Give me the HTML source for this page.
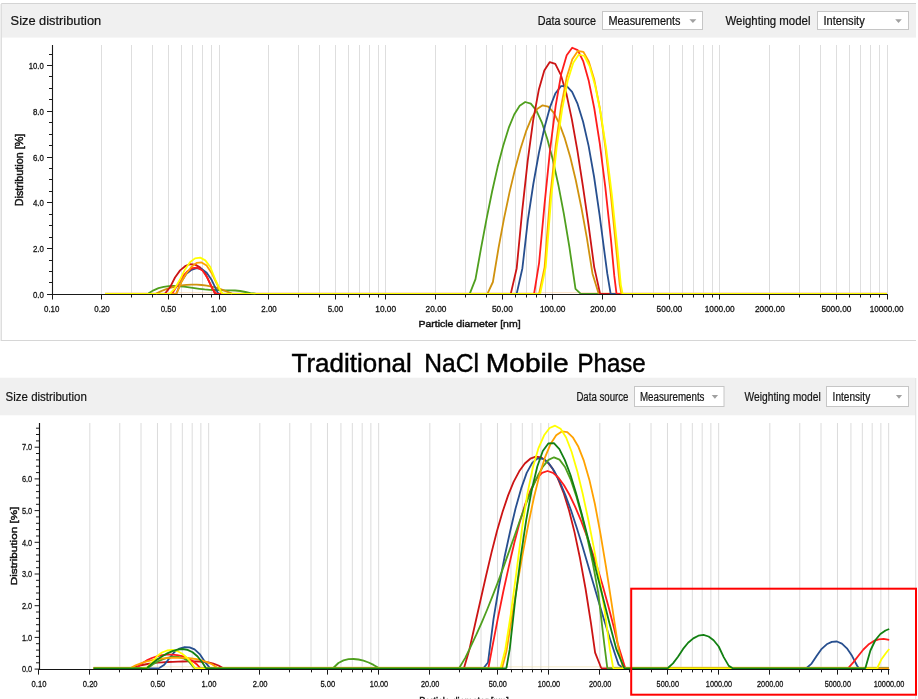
<!DOCTYPE html>
<html lang="en"><head><meta charset="utf-8"><title>Size distribution</title>
<style>html,body{margin:0;padding:0;background:#fff;width:918px;height:699px;overflow:hidden}body{position:relative}</style></head>
<body>
<svg width="918" height="699" viewBox="0 0 918 699" style="position:absolute;left:0;top:0;display:block">
<rect x="1" y="3" width="915" height="34.6" fill="#f0f0f0"/>
<rect x="1" y="3" width="915" height="1" fill="#d4d4d4"/>
<rect x="0" y="4" width="1" height="337" fill="#efefef"/>
<rect x="1" y="3" width="1" height="338" fill="#dedede"/>
<rect x="1" y="340" width="915" height="1" fill="#d6d6d6"/>
<g font-family="'Liberation Sans', sans-serif">
<text x="10.6" y="24.6" font-size="13.5" textLength="90.6" lengthAdjust="spacingAndGlyphs" fill="#141414" stroke="#141414" stroke-width="0.22">Size distribution</text>
<text x="537.8" y="24.5" font-size="12" textLength="58.2" lengthAdjust="spacingAndGlyphs" fill="#141414" stroke="#141414" stroke-width="0.22">Data source</text>
<rect x="602.5" y="11.5" width="100" height="18" fill="#fff" stroke="#c6c6c6"/>
<text x="608.5" y="24.5" font-size="12" textLength="72" lengthAdjust="spacingAndGlyphs" fill="#141414" stroke="#141414" stroke-width="0.22">Measurements</text>
<path d="M689.4,19.2h7l-3.5,3.8z" fill="#a0a0a0"/>
<text x="725.5" y="24.5" font-size="12" textLength="85" lengthAdjust="spacingAndGlyphs" fill="#141414" stroke="#141414" stroke-width="0.22">Weighting model</text>
<rect x="817.5" y="11.5" width="91" height="18" fill="#fff" stroke="#c6c6c6"/>
<text x="823.5" y="24.5" font-size="12" textLength="41.2" lengthAdjust="spacingAndGlyphs" fill="#141414" stroke="#141414" stroke-width="0.22">Intensity</text>
<path d="M895.2,19.2h6.6l-3.3,3.8z" fill="#a0a0a0"/>
</g>
<path d="M101.5,45V294.4M131.5,45V294.4M152.5,45V294.4M168.5,45V294.4M181.5,45V294.4M192.5,45V294.4M202.5,45V294.4M211.5,45V294.4M219.5,45V294.4M268.5,45V294.4M298.5,45V294.4M319.5,45V294.4M335.5,45V294.4M348.5,45V294.4M359.5,45V294.4M369.5,45V294.4M378.5,45V294.4M385.5,45V294.4M435.5,45V294.4M465.5,45V294.4M486.5,45V294.4M502.5,45V294.4M515.5,45V294.4M526.5,45V294.4M536.5,45V294.4M545.5,45V294.4M552.5,45V294.4M602.5,45V294.4M632.5,45V294.4M653.5,45V294.4M669.5,45V294.4M682.5,45V294.4M693.5,45V294.4M703.5,45V294.4M712.5,45V294.4M719.5,45V294.4M769.5,45V294.4M799.5,45V294.4M820.5,45V294.4M836.5,45V294.4M849.5,45V294.4M860.5,45V294.4M870.5,45V294.4M879.5,45V294.4M887.5,45V294.4" stroke="#dedede" stroke-width="1" fill="none"/>
<path d="M52.5,45V295M52,294.5H888" stroke="#1a1a1a" stroke-width="1.1" fill="none"/>
<path d="M52.5,294.5V299.5M101.5,294.5V299.5M168.5,294.5V299.5M219.5,294.5V299.5M268.5,294.5V299.5M335.5,294.5V299.5M385.5,294.5V299.5M435.5,294.5V299.5M502.5,294.5V299.5M552.5,294.5V299.5M602.5,294.5V299.5M669.5,294.5V299.5M719.5,294.5V299.5M769.5,294.5V299.5M836.5,294.5V299.5M887.5,294.5V299.5M131.5,294.5V297.5M152.5,294.5V297.5M181.5,294.5V297.5M192.5,294.5V297.5M202.5,294.5V297.5M211.5,294.5V297.5M298.5,294.5V297.5M319.5,294.5V297.5M348.5,294.5V297.5M359.5,294.5V297.5M369.5,294.5V297.5M378.5,294.5V297.5M465.5,294.5V297.5M486.5,294.5V297.5M515.5,294.5V297.5M526.5,294.5V297.5M536.5,294.5V297.5M545.5,294.5V297.5M632.5,294.5V297.5M653.5,294.5V297.5M682.5,294.5V297.5M693.5,294.5V297.5M703.5,294.5V297.5M712.5,294.5V297.5M799.5,294.5V297.5M820.5,294.5V297.5M849.5,294.5V297.5M860.5,294.5V297.5M870.5,294.5V297.5M879.5,294.5V297.5M47,294.5H52M49,282.5H52M49,271.5H52M49,260.5H52M47,248.5H52M49,237.5H52M49,225.5H52M49,214.5H52M47,202.5H52M49,191.5H52M49,179.5H52M49,168.5H52M47,157.5H52M49,145.5H52M49,134.5H52M49,122.5H52M47,111.5H52M49,99.5H52M49,88.5H52M49,76.5H52M47,65.5H52M49,54.5H52" stroke="#1a1a1a" stroke-width="1" fill="none"/>
<g font-family="'Liberation Sans', sans-serif">
<text x="43.8" y="297.8" font-size="9" text-anchor="end" textLength="10.9" lengthAdjust="spacingAndGlyphs" fill="#141414" stroke="#141414" stroke-width="0.3">0.0</text>
<text x="43.8" y="252.0" font-size="9" text-anchor="end" textLength="10.9" lengthAdjust="spacingAndGlyphs" fill="#141414" stroke="#141414" stroke-width="0.3">2.0</text>
<text x="43.8" y="206.2" font-size="9" text-anchor="end" textLength="10.9" lengthAdjust="spacingAndGlyphs" fill="#141414" stroke="#141414" stroke-width="0.3">4.0</text>
<text x="43.8" y="160.5" font-size="9" text-anchor="end" textLength="10.9" lengthAdjust="spacingAndGlyphs" fill="#141414" stroke="#141414" stroke-width="0.3">6.0</text>
<text x="43.8" y="114.7" font-size="9" text-anchor="end" textLength="10.9" lengthAdjust="spacingAndGlyphs" fill="#141414" stroke="#141414" stroke-width="0.3">8.0</text>
<text x="43.8" y="68.9" font-size="9" text-anchor="end" textLength="15" lengthAdjust="spacingAndGlyphs" fill="#141414" stroke="#141414" stroke-width="0.3">10.0</text>
<text x="51.7" y="311.8" font-size="9" text-anchor="middle" textLength="15.4" lengthAdjust="spacingAndGlyphs" fill="#141414" stroke="#141414" stroke-width="0.3">0.10</text>
<text x="102.0" y="311.8" font-size="9" text-anchor="middle" textLength="15.4" lengthAdjust="spacingAndGlyphs" fill="#141414" stroke="#141414" stroke-width="0.3">0.20</text>
<text x="168.4" y="311.8" font-size="9" text-anchor="middle" textLength="15.4" lengthAdjust="spacingAndGlyphs" fill="#141414" stroke="#141414" stroke-width="0.3">0.50</text>
<text x="218.7" y="311.8" font-size="9" text-anchor="middle" textLength="15.4" lengthAdjust="spacingAndGlyphs" fill="#141414" stroke="#141414" stroke-width="0.3">1.00</text>
<text x="269.0" y="311.8" font-size="9" text-anchor="middle" textLength="15.4" lengthAdjust="spacingAndGlyphs" fill="#141414" stroke="#141414" stroke-width="0.3">2.00</text>
<text x="335.4" y="311.8" font-size="9" text-anchor="middle" textLength="15.4" lengthAdjust="spacingAndGlyphs" fill="#141414" stroke="#141414" stroke-width="0.3">5.00</text>
<text x="385.7" y="311.8" font-size="9" text-anchor="middle" textLength="20.8" lengthAdjust="spacingAndGlyphs" fill="#141414" stroke="#141414" stroke-width="0.3">10.00</text>
<text x="436.0" y="311.8" font-size="9" text-anchor="middle" textLength="20.8" lengthAdjust="spacingAndGlyphs" fill="#141414" stroke="#141414" stroke-width="0.3">20.00</text>
<text x="502.4" y="311.8" font-size="9" text-anchor="middle" textLength="20.8" lengthAdjust="spacingAndGlyphs" fill="#141414" stroke="#141414" stroke-width="0.3">50.00</text>
<text x="552.7" y="311.8" font-size="9" text-anchor="middle" textLength="25.6" lengthAdjust="spacingAndGlyphs" fill="#141414" stroke="#141414" stroke-width="0.3">100.00</text>
<text x="603.0" y="311.8" font-size="9" text-anchor="middle" textLength="25.6" lengthAdjust="spacingAndGlyphs" fill="#141414" stroke="#141414" stroke-width="0.3">200.00</text>
<text x="669.4" y="311.8" font-size="9" text-anchor="middle" textLength="25.6" lengthAdjust="spacingAndGlyphs" fill="#141414" stroke="#141414" stroke-width="0.3">500.00</text>
<text x="719.7" y="311.8" font-size="9" text-anchor="middle" textLength="30" lengthAdjust="spacingAndGlyphs" fill="#141414" stroke="#141414" stroke-width="0.3">1000.00</text>
<text x="770.0" y="311.8" font-size="9" text-anchor="middle" textLength="30" lengthAdjust="spacingAndGlyphs" fill="#141414" stroke="#141414" stroke-width="0.3">2000.00</text>
<text x="836.4" y="311.8" font-size="9" text-anchor="middle" textLength="30" lengthAdjust="spacingAndGlyphs" fill="#141414" stroke="#141414" stroke-width="0.3">5000.00</text>
<text x="886.7" y="311.8" font-size="9" text-anchor="middle" textLength="33.8" lengthAdjust="spacingAndGlyphs" fill="#141414" stroke="#141414" stroke-width="0.3">10000.00</text>
<text x="469.5" y="327.2" font-size="9.9" text-anchor="middle" textLength="102.2" lengthAdjust="spacingAndGlyphs" fill="#141414" stroke="#141414" stroke-width="0.45">Particle diameter [nm]</text>
<text transform="translate(23.3,170) rotate(-90)" font-size="10.3" text-anchor="middle" textLength="72.4" lengthAdjust="spacingAndGlyphs" fill="#141414" stroke="#141414" stroke-width="0.45">Distribution [%]</text>
</g>
<rect x="105" y="292.2" width="782" height="1" fill="#f9c48a" opacity="0.55"/>
<g stroke="#4f9f1e" fill="none"><path d="M105.0,293.53H148.7M255.1,293.53H470.2M580.1,293.53H887.0" stroke-width="1.14"/><path d="M148.3,293.6 L153.5,290.3 L158.5,288.2 L163.7,286.9 L168.8,286.2 L173.8,286.0 L178.9,286.3 L184.0,286.7 L189.2,287.4 L194.4,288.1 L199.5,288.8 L204.6,289.4 L209.7,289.8 L214.7,290.0 L219.8,290.2 L224.9,290.3 L230.0,290.3 L235.1,290.5 L240.2,291.0 L245.4,292.0 L250.5,293.1 L255.5,293.6M469.8,293.6 L475.5,279.1 L481.1,247.9 L486.6,218.6 L492.1,191.5 L497.6,167.1 L503.2,145.7 L508.7,127.9 L514.2,114.5 L519.7,105.7 L525.2,102.0 L530.8,103.6 L536.3,110.4 L541.8,122.3 L547.3,139.0 L552.9,160.1 L558.4,185.2 L563.9,214.2 L569.4,247.2 L575.5,288.9 L580.5,293.6" stroke-width="1.8" stroke-linejoin="round"/></g>
<g stroke="#d0920e" fill="none"><path d="M105.0,293.53H156.5M231.6,293.53H487.9M598.2,293.53H887.0" stroke-width="1.14"/><path d="M156.1,293.6 L161.2,291.1 L166.2,289.1 L171.2,287.5 L176.4,286.3 L181.4,285.4 L186.6,284.8 L191.6,284.6 L196.6,284.6 L201.6,285.0 L206.7,285.6 L211.8,286.6 L216.9,287.9 L221.9,289.6 L227.0,291.6 L232.0,293.6M487.5,293.6 L492.9,282.0 L498.5,248.1 L504.0,218.7 L509.5,192.4 L515.1,168.9 L520.6,148.4 L526.1,131.2 L531.6,117.9 L537.1,109.1 L542.6,105.3 L548.2,106.6 L553.7,112.7 L559.3,123.5 L564.8,138.4 L570.3,157.3 L575.8,180.3 L581.3,207.2 L586.9,238.2 L592.5,273.7 L598.6,293.6" stroke-width="1.8" stroke-linejoin="round"/></g>
<g stroke="#cc1414" fill="none"><path d="M105.0,293.53H165.4M214.5,293.53H511.2M599.7,293.53H887.0" stroke-width="1.14"/><path d="M165.0,293.6 L170.0,287.3 L175.0,277.5 L180.1,270.4 L185.1,266.2 L190.2,264.2 L195.2,264.6 L200.3,267.6 L205.3,273.5 L210.4,284.3 L214.9,293.6M510.8,293.6 L516.7,268.2 L522.2,210.9 L527.7,160.9 L533.2,120.2 L538.8,89.8 L544.3,70.5 L549.8,62.1 L555.3,63.9 L560.8,74.8 L566.4,93.8 L571.9,119.6 L577.4,150.7 L582.9,186.2 L588.5,224.7 L594.2,267.1 L600.1,293.6" stroke-width="1.8" stroke-linejoin="round"/></g>
<g stroke="#274f8f" fill="none"><path d="M105.0,293.53H176.8M218.0,293.53H517.1M610.2,293.53H887.0" stroke-width="1.14"/><path d="M176.4,293.6 L181.4,281.6 L186.4,273.7 L191.5,269.8 L196.6,268.2 L201.7,269.0 L206.7,272.8 L211.7,280.1 L216.8,290.9 L218.4,293.6M516.7,293.6 L522.4,268.2 L527.9,219.9 L533.4,183.5 L538.9,153.0 L544.5,127.5 L550.0,107.2 L555.5,93.2 L561.0,86.1 L566.5,85.8 L572.1,91.9 L577.6,103.9 L583.1,121.8 L588.6,145.9 L594.1,177.0 L599.6,215.1 L605.1,257.2 L607.3,273.7 L610.6,293.6" stroke-width="1.8" stroke-linejoin="round"/></g>
<g stroke="#ff1c1c" fill="none"><path d="M105.0,293.53H172.6M216.0,293.53H534.5M616.1,293.53H887.0" stroke-width="1.14"/><path d="M172.2,293.6 L177.2,285.5 L182.2,276.9 L187.2,271.5 L192.3,268.2 L197.4,267.6 L202.5,270.5 L207.5,277.9 L212.5,289.0 L216.4,293.6M534.1,293.6 L539.1,262.8 L544.6,203.7 L550.1,149.7 L555.7,105.6 L561.2,74.1 L566.7,55.3 L572.2,47.7 L577.7,50.1 L583.3,61.4 L588.8,81.1 L594.3,108.5 L599.8,143.6 L605.3,187.2 L610.9,239.2 L614.3,275.9 L616.5,293.6" stroke-width="1.8" stroke-linejoin="round"/></g>
<g stroke="#ffa200" fill="none"><path d="M105.0,293.53H176.8M221.5,293.53H539.5M620.9,293.53H887.0" stroke-width="1.14"/><path d="M176.4,293.6 L181.5,281.8 L186.5,273.2 L191.5,266.8 L196.6,262.9 L201.6,262.4 L206.6,265.6 L211.7,273.2 L216.7,283.7 L221.9,293.6M539.1,293.6 L544.6,267.1 L550.1,197.3 L555.7,145.4 L561.2,105.8 L566.7,77.3 L572.3,59.3 L577.8,51.0 L583.3,51.8 L588.8,61.4 L594.3,79.8 L599.8,107.8 L605.3,146.5 L610.9,195.4 L616.4,250.9 L619.7,284.6 L621.3,293.6" stroke-width="1.8" stroke-linejoin="round"/></g>
<g stroke="#ffff00" fill="none"><path d="M105.0,293.53H170.3M222.1,293.53H540.6M622.2,293.53H887.0" stroke-width="1.14"/><path d="M169.9,293.6 L174.9,288.3 L179.9,279.8 L185.0,269.4 L190.0,262.2 L195.0,258.4 L200.2,257.6 L205.3,260.4 L210.3,267.0 L215.3,279.7 L220.4,290.5 L222.5,293.6M540.2,293.6 L545.7,267.1 L551.2,197.4 L556.7,147.2 L562.2,108.8 L567.7,80.8 L573.3,62.7 L578.8,54.5 L584.3,56.0 L589.8,66.7 L595.3,86.2 L600.9,114.3 L606.4,150.4 L611.9,195.0 L617.4,248.1 L620.8,284.6 L622.6,293.6" stroke-width="1.8" stroke-linejoin="round"/></g>
<text y="371.7" font-size="25.8" fill="#000" stroke="#000" stroke-width="0.45" font-family="'Liberation Sans', sans-serif"><tspan x="291.6" textLength="120.2" lengthAdjust="spacingAndGlyphs">Traditional</tspan> <tspan x="424.3" textLength="54.6" lengthAdjust="spacingAndGlyphs">NaCl</tspan> <tspan x="485.8" textLength="83.0" lengthAdjust="spacingAndGlyphs">Mobile</tspan> <tspan x="577.5" textLength="68.2" lengthAdjust="spacingAndGlyphs">Phase</tspan></text>
<rect x="0" y="377.7" width="915" height="37.6" fill="#f0f0f0"/>
<rect x="915" y="378" width="1.3" height="321" fill="#e6e6e6"/>
<g font-family="'Liberation Sans', sans-serif">
<text x="5.6" y="400.7" font-size="13.5" textLength="81.2" lengthAdjust="spacingAndGlyphs" fill="#141414" stroke="#141414" stroke-width="0.22">Size distribution</text>
<text x="576.4" y="400.7" font-size="12.5" textLength="52" lengthAdjust="spacingAndGlyphs" fill="#141414" stroke="#141414" stroke-width="0.22">Data source</text>
<rect x="634.5" y="386.5" width="89.5" height="20" fill="#fff" stroke="#c6c6c6"/>
<text x="640" y="400.7" font-size="12.5" textLength="64.5" lengthAdjust="spacingAndGlyphs" fill="#141414" stroke="#141414" stroke-width="0.22">Measurements</text>
<path d="M711.7,395h6.4l-3.2,3.8z" fill="#a0a0a0"/>
<text x="744.5" y="400.7" font-size="12.5" textLength="76.2" lengthAdjust="spacingAndGlyphs" fill="#141414" stroke="#141414" stroke-width="0.22">Weighting model</text>
<rect x="826.5" y="386.5" width="82" height="20" fill="#fff" stroke="#c6c6c6"/>
<text x="832.6" y="400.7" font-size="12.5" textLength="37.6" lengthAdjust="spacingAndGlyphs" fill="#141414" stroke="#141414" stroke-width="0.22">Intensity</text>
<path d="M895.9,395h6.2l-3.1,3.8z" fill="#a0a0a0"/>
</g>
<path d="M89.83,423V669.1M119.76,423V669.1M141.00,423V669.1M157.47,423V669.1M170.94,423V669.1M182.32,423V669.1M192.18,423V669.1M200.87,423V669.1M208.65,423V669.1M259.83,423V669.1M289.76,423V669.1M311.00,423V669.1M327.47,423V669.1M340.94,423V669.1M352.32,423V669.1M362.18,423V669.1M370.87,423V669.1M378.65,423V669.1M429.83,423V669.1M459.76,423V669.1M481.00,423V669.1M497.47,423V669.1M510.94,423V669.1M522.32,423V669.1M532.18,423V669.1M540.87,423V669.1M548.65,423V669.1M599.83,423V669.1M629.76,423V669.1M651.00,423V669.1M667.47,423V669.1M680.94,423V669.1M692.32,423V669.1M702.18,423V669.1M710.87,423V669.1M718.65,423V669.1M769.83,423V669.1M799.76,423V669.1M821.00,423V669.1M837.47,423V669.1M850.94,423V669.1M862.32,423V669.1M872.18,423V669.1M880.87,423V669.1M888.65,423V669.1" stroke="#dcdcdc" stroke-width="1" fill="none"/>
<path d="M39.5,423V670M38.6,669.45H889.5" stroke="#141414" stroke-width="1.15" fill="none"/>
<path d="M38.5,669.2V674.6M89.5,669.2V674.6M157.5,669.2V674.6M208.5,669.2V674.6M259.5,669.2V674.6M327.5,669.2V674.6M378.5,669.2V674.6M429.5,669.2V674.6M497.5,669.2V674.6M548.5,669.2V674.6M599.5,669.2V674.6M667.5,669.2V674.6M718.5,669.2V674.6M769.5,669.2V674.6M837.5,669.2V674.6M888.5,669.2V674.6M119.5,669.2V672.4M141.5,669.2V672.4M171.5,669.2V672.4M182.5,669.2V672.4M192.5,669.2V672.4M201.5,669.2V672.4M289.5,669.2V672.4M311.5,669.2V672.4M341.5,669.2V672.4M352.5,669.2V672.4M362.5,669.2V672.4M371.5,669.2V672.4M459.5,669.2V672.4M481.5,669.2V672.4M511.5,669.2V672.4M522.5,669.2V672.4M532.5,669.2V672.4M541.5,669.2V672.4M629.5,669.2V672.4M651.5,669.2V672.4M681.5,669.2V672.4M692.5,669.2V672.4M702.5,669.2V672.4M711.5,669.2V672.4M799.5,669.2V672.4M821.5,669.2V672.4M851.5,669.2V672.4M862.5,669.2V672.4M872.5,669.2V672.4M881.5,669.2V672.4M34.6,669.1H39M36,662.8H39M36,656.4H39M36,650.1H39M36,643.7H39M34.6,637.4H39M36,631.1H39M36,624.7H39M36,618.4H39M36,612.0H39M34.6,605.7H39M36,599.4H39M36,593.0H39M36,586.7H39M36,580.3H39M34.6,574.0H39M36,567.7H39M36,561.3H39M36,555.0H39M36,548.6H39M34.6,542.3H39M36,536.0H39M36,529.6H39M36,523.3H39M36,516.9H39M34.6,510.6H39M36,504.3H39M36,497.9H39M36,491.6H39M36,485.2H39M34.6,478.9H39M36,472.6H39M36,466.2H39M36,459.9H39M36,453.5H39M34.6,447.2H39M36,440.9H39M36,434.5H39M36,428.2H39" stroke="#1a1a1a" stroke-width="1" fill="none"/>
<g font-family="'Liberation Sans', sans-serif">
<text x="32.2" y="672.3" font-size="9.5" text-anchor="end" textLength="10.3" lengthAdjust="spacingAndGlyphs" fill="#141414" stroke="#141414" stroke-width="0.3">0.0</text>
<text x="32.2" y="640.6" font-size="9.5" text-anchor="end" textLength="10.3" lengthAdjust="spacingAndGlyphs" fill="#141414" stroke="#141414" stroke-width="0.3">1.0</text>
<text x="32.2" y="608.9" font-size="9.5" text-anchor="end" textLength="10.3" lengthAdjust="spacingAndGlyphs" fill="#141414" stroke="#141414" stroke-width="0.3">2.0</text>
<text x="32.2" y="577.2" font-size="9.5" text-anchor="end" textLength="10.3" lengthAdjust="spacingAndGlyphs" fill="#141414" stroke="#141414" stroke-width="0.3">3.0</text>
<text x="32.2" y="545.5" font-size="9.5" text-anchor="end" textLength="10.3" lengthAdjust="spacingAndGlyphs" fill="#141414" stroke="#141414" stroke-width="0.3">4.0</text>
<text x="32.2" y="513.8" font-size="9.5" text-anchor="end" textLength="10.3" lengthAdjust="spacingAndGlyphs" fill="#141414" stroke="#141414" stroke-width="0.3">5.0</text>
<text x="32.2" y="482.1" font-size="9.5" text-anchor="end" textLength="10.3" lengthAdjust="spacingAndGlyphs" fill="#141414" stroke="#141414" stroke-width="0.3">6.0</text>
<text x="32.2" y="450.4" font-size="9.5" text-anchor="end" textLength="10.3" lengthAdjust="spacingAndGlyphs" fill="#141414" stroke="#141414" stroke-width="0.3">7.0</text>
<text x="39.0" y="687.4" font-size="9.5" text-anchor="middle" textLength="14.8" lengthAdjust="spacingAndGlyphs" fill="#141414" stroke="#141414" stroke-width="0.3">0.10</text>
<text x="90.2" y="687.4" font-size="9.5" text-anchor="middle" textLength="14.8" lengthAdjust="spacingAndGlyphs" fill="#141414" stroke="#141414" stroke-width="0.3">0.20</text>
<text x="157.8" y="687.4" font-size="9.5" text-anchor="middle" textLength="14.8" lengthAdjust="spacingAndGlyphs" fill="#141414" stroke="#141414" stroke-width="0.3">0.50</text>
<text x="209.0" y="687.4" font-size="9.5" text-anchor="middle" textLength="14.8" lengthAdjust="spacingAndGlyphs" fill="#141414" stroke="#141414" stroke-width="0.3">1.00</text>
<text x="260.2" y="687.4" font-size="9.5" text-anchor="middle" textLength="14.8" lengthAdjust="spacingAndGlyphs" fill="#141414" stroke="#141414" stroke-width="0.3">2.00</text>
<text x="327.8" y="687.4" font-size="9.5" text-anchor="middle" textLength="14.8" lengthAdjust="spacingAndGlyphs" fill="#141414" stroke="#141414" stroke-width="0.3">5.00</text>
<text x="379.0" y="687.4" font-size="9.5" text-anchor="middle" textLength="18.3" lengthAdjust="spacingAndGlyphs" fill="#141414" stroke="#141414" stroke-width="0.3">10.00</text>
<text x="430.2" y="687.4" font-size="9.5" text-anchor="middle" textLength="18.3" lengthAdjust="spacingAndGlyphs" fill="#141414" stroke="#141414" stroke-width="0.3">20.00</text>
<text x="497.8" y="687.4" font-size="9.5" text-anchor="middle" textLength="18.3" lengthAdjust="spacingAndGlyphs" fill="#141414" stroke="#141414" stroke-width="0.3">50.00</text>
<text x="549.0" y="687.4" font-size="9.5" text-anchor="middle" textLength="22.4" lengthAdjust="spacingAndGlyphs" fill="#141414" stroke="#141414" stroke-width="0.3">100.00</text>
<text x="600.2" y="687.4" font-size="9.5" text-anchor="middle" textLength="22.4" lengthAdjust="spacingAndGlyphs" fill="#141414" stroke="#141414" stroke-width="0.3">200.00</text>
<text x="667.8" y="687.4" font-size="9.5" text-anchor="middle" textLength="22.4" lengthAdjust="spacingAndGlyphs" fill="#141414" stroke="#141414" stroke-width="0.3">500.00</text>
<text x="719.0" y="687.4" font-size="9.5" text-anchor="middle" textLength="26.3" lengthAdjust="spacingAndGlyphs" fill="#141414" stroke="#141414" stroke-width="0.3">1000.00</text>
<text x="770.2" y="687.4" font-size="9.5" text-anchor="middle" textLength="26.3" lengthAdjust="spacingAndGlyphs" fill="#141414" stroke="#141414" stroke-width="0.3">2000.00</text>
<text x="837.8" y="687.4" font-size="9.5" text-anchor="middle" textLength="26.3" lengthAdjust="spacingAndGlyphs" fill="#141414" stroke="#141414" stroke-width="0.3">5000.00</text>
<text x="889.0" y="687.4" font-size="9.5" text-anchor="middle" textLength="30.6" lengthAdjust="spacingAndGlyphs" fill="#141414" stroke="#141414" stroke-width="0.3">10000.00</text>
<text x="464" y="704.5" font-size="11" text-anchor="middle" textLength="89.6" lengthAdjust="spacingAndGlyphs" fill="#141414" stroke="#141414" stroke-width="0.45">Particle diameter [nm]</text>
<text transform="translate(16.7,546) rotate(-90)" font-size="9.8" text-anchor="middle" textLength="78.6" lengthAdjust="spacingAndGlyphs" fill="#141414" stroke="#141414" stroke-width="0.45">Distribution [%]</text>
</g>
<rect x="93.6" y="666.3" width="795.4" height="1" fill="#f2dfa8" opacity="0.6"/>
<g stroke="#cc1414" fill="none"><path d="M93.6,668.20H132.7M222.5,668.20H464.4M600.8,668.20H889.0" stroke-width="1.5"/><path d="M132.3,668.0 L137.3,666.3 L142.4,665.0 L147.5,664.0 L152.5,663.2 L157.6,662.7 L162.6,662.3 L167.8,662.0 L172.9,661.8 L178.0,661.6 L183.0,661.5 L188.0,661.4 L193.2,661.4 L198.3,661.5 L203.4,661.9 L208.4,662.5 L213.4,663.6 L218.5,665.5 L222.9,668.0M464.0,668.0 L469.4,649.4 L474.9,625.0 L480.5,600.3 L486.0,576.0 L491.5,552.6 L497.0,531.0 L502.6,511.8 L508.1,495.4 L513.6,481.9 L519.2,471.3 L524.8,463.5 L530.3,458.7 L535.8,456.7 L541.3,457.5 L546.9,461.4 L552.4,468.4 L557.9,478.7 L563.5,492.6 L569.0,510.2 L574.5,532.1 L580.0,558.3 L585.6,589.0 L591.1,624.1 L595.1,652.7 L601.2,668.0" stroke-width="1.8" stroke-linejoin="round"/></g>
<g stroke="#274f8f" fill="none"><path d="M93.6,668.20H159.7M211.2,668.20H484.0M622.6,668.20H807.0M858.2,668.20H889.0" stroke-width="1.5"/><path d="M159.3,668.0 L164.3,664.7 L169.4,658.3 L174.5,651.9 L179.5,648.6 L184.6,647.2 L189.6,647.3 L194.6,649.4 L199.7,654.1 L204.7,661.6 L209.7,667.7 L211.6,668.0M483.6,668.0 L488.0,662.5 L493.5,619.1 L499.0,586.0 L504.5,557.3 L510.1,531.5 L515.6,508.3 L521.2,488.4 L526.7,472.9 L532.2,462.9 L537.7,458.3 L543.3,458.8 L548.8,463.3 L554.4,471.3 L559.9,482.0 L565.4,495.1 L571.0,510.3 L576.5,527.0 L582.1,544.9 L587.6,563.8 L593.2,582.9 L598.7,601.8 L604.2,620.3 L609.8,638.3 L615.4,655.3 L618.6,664.6 L623.0,668.0M806.6,668.0 L811.6,663.6 L816.6,656.1 L821.7,648.8 L826.7,644.3 L831.8,641.9 L836.9,641.5 L841.9,643.6 L846.9,648.3 L852.0,655.8 L857.0,665.5 L858.6,668.0" stroke-width="1.8" stroke-linejoin="round"/></g>
<g stroke="#ff1c1c" fill="none"><path d="M93.6,668.20H137.0M199.9,668.20H488.8M624.8,668.20H848.7" stroke-width="1.5"/><path d="M136.6,668.0 L141.6,663.6 L146.7,660.4 L151.8,658.0 L156.9,656.3 L161.9,655.2 L167.0,654.6 L172.0,654.6 L177.1,655.1 L182.2,656.2 L187.2,658.0 L192.3,660.8 L197.3,664.8 L200.3,668.0M488.4,668.0 L492.3,647.2 L497.8,618.7 L503.3,591.5 L508.9,566.1 L514.4,542.5 L519.9,521.6 L525.4,503.6 L530.9,489.3 L536.4,479.0 L542.0,472.9 L547.5,471.0 L553.0,472.8 L558.5,477.7 L564.0,485.3 L569.6,495.0 L575.1,506.6 L580.7,519.8 L586.2,534.4 L591.7,550.2 L597.3,567.5 L602.8,585.9 L608.3,606.0 L613.9,627.6 L617.5,642.9 L625.2,668.0M848.3,668.0 L853.3,662.4 L858.4,655.8 L863.4,649.5 L868.4,644.6 L873.5,641.2 L878.6,639.3 L883.6,638.8 L889.2,639.9" stroke-width="1.8" stroke-linejoin="round"/></g>
<g stroke="#4f9f1e" fill="none"><path d="M93.6,668.20H148.4M193.8,668.20H333.7M378.4,668.20H459.6M606.9,668.20H889.0" stroke-width="1.5"/><path d="M148.0,668.0 L153.0,664.3 L158.0,661.4 L163.1,659.2 L168.1,657.7 L173.1,656.9 L178.2,657.0 L183.2,658.1 L188.3,660.9 L194.2,668.0M333.3,668.0 L338.4,663.0 L343.5,660.4 L348.5,659.2 L353.5,659.0 L358.5,659.5 L363.5,660.7 L368.6,662.5 L373.6,664.9 L378.8,668.0M459.2,668.0 L465.1,658.1 L470.6,646.8 L476.3,634.7 L481.8,622.3 L487.4,609.0 L492.9,595.2 L498.5,580.6 L504.0,565.6 L509.6,549.9 L515.2,534.0 L520.7,518.3 L526.3,503.1 L531.9,488.9 L537.4,476.5 L542.9,466.6 L548.5,459.9 L554.0,457.3 L559.5,459.6 L565.0,467.0 L570.6,479.3 L576.1,495.6 L581.6,515.0 L587.1,537.1 L592.7,562.5 L598.2,592.7 L604.4,645.0 L607.3,668.0" stroke-width="1.8" stroke-linejoin="round"/></g>
<g stroke="#ffa200" fill="none"><path d="M93.6,668.20H130.9M217.3,668.20H502.5M622.6,668.20H889.0" stroke-width="1.5"/><path d="M130.5,668.0 L135.6,665.4 L140.8,663.3 L145.9,661.6 L151.0,660.3 L156.1,659.3 L161.2,658.6 L166.2,658.1 L171.3,657.8 L176.4,657.7 L181.5,657.8 L186.5,658.0 L191.5,658.5 L196.6,659.2 L201.7,660.4 L206.9,662.1 L211.9,664.3 L217.7,668.0M502.1,668.0 L506.4,651.6 L512.0,616.6 L517.5,583.1 L523.1,551.7 L528.6,522.8 L534.1,496.8 L539.6,474.6 L545.2,456.8 L550.7,443.7 L556.2,435.2 L561.8,431.4 L567.3,432.1 L572.8,437.3 L578.4,446.8 L583.9,460.9 L589.4,479.9 L594.9,504.0 L600.4,533.3 L606.0,566.8 L611.5,602.7 L618.6,649.4 L623.0,668.0" stroke-width="1.8" stroke-linejoin="round"/></g>
<g stroke="#ffff00" fill="none"><path d="M93.6,668.20H142.3M194.6,668.20H501.0M612.8,668.20H877.7" stroke-width="1.5"/><path d="M141.9,668.0 L146.9,667.6 L152.0,662.4 L157.0,656.2 L162.0,652.5 L167.1,650.5 L172.2,649.9 L177.2,651.0 L182.2,653.7 L187.3,658.0 L192.3,663.9 L195.0,668.0M500.6,668.0 L505.3,649.4 L510.8,614.2 L516.4,572.4 L521.9,529.4 L527.4,493.6 L533.0,467.0 L538.5,448.1 L544.1,435.3 L549.6,428.0 L555.1,425.7 L560.6,428.8 L566.1,437.5 L571.6,451.8 L577.2,470.9 L582.7,493.8 L588.2,519.3 L593.7,547.2 L599.3,577.5 L604.8,611.7 L609.9,649.4 L613.2,668.0M877.3,668.0 L881.5,659.2 L885.8,653.2 L889.2,649.0" stroke-width="1.8" stroke-linejoin="round"/></g>
<g stroke="#128012" fill="none"><path d="M93.6,668.20H147.5M205.4,668.20H506.8M623.7,668.20H668.3M732.0,668.20H865.8" stroke-width="1.5"/><path d="M147.1,668.0 L152.2,663.4 L157.2,659.5 L162.2,656.2 L167.3,653.4 L172.4,651.1 L177.4,649.6 L182.5,649.0 L187.6,649.9 L192.6,652.3 L197.6,656.5 L202.7,663.0 L205.8,668.0M506.4,668.0 L509.7,649.4 L515.2,599.8 L520.7,557.0 L526.2,520.2 L531.8,489.7 L537.3,466.5 L542.8,451.0 L548.3,443.5 L553.9,443.2 L559.4,449.1 L564.9,460.1 L570.5,475.0 L576.0,492.9 L581.5,513.0 L587.0,534.2 L592.6,556.4 L598.1,578.5 L603.7,600.5 L609.2,622.2 L616.4,649.4 L624.1,668.0M667.9,668.0 L673.0,663.4 L678.0,656.7 L683.1,648.9 L688.1,642.8 L693.3,638.4 L698.4,635.7 L703.5,634.9 L708.6,636.5 L713.6,640.2 L718.7,646.5 L723.7,657.1 L728.8,665.9 L732.4,668.0M865.4,668.0 L870.4,650.5 L875.4,640.0 L880.4,634.0 L885.5,630.5 L889.2,629.0" stroke-width="1.8" stroke-linejoin="round"/></g>
<rect x="631.2" y="588.7" width="284.8" height="106" fill="none" stroke="#ff0000" stroke-width="2"/>
</svg>
</body></html>
